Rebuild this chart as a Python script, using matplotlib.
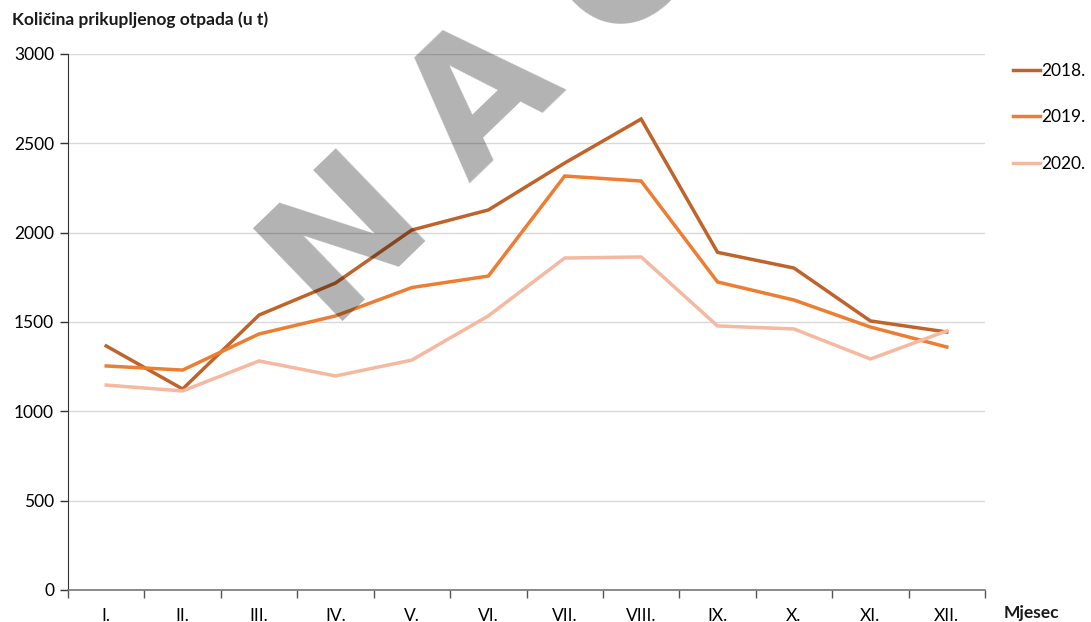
import math
import matplotlib
matplotlib.use("Agg")
import matplotlib.pyplot as plt

months = ["I.", "II.", "III.", "IV.", "V.", "VI.", "VII.", "VIII.", "IX.", "X.", "XI.", "XII."]
s2018 = [1366, 1125, 1539, 1718, 2015, 2127, 2390, 2636, 1890, 1802, 1506, 1444]
s2019 = [1254, 1231, 1433, 1534, 1693, 1757, 2317, 2289, 1724, 1623, 1472, 1360]
s2020 = [1147, 1114, 1282, 1198, 1287, 1534, 1858, 1864, 1478, 1461, 1293, 1450]
series = [("2018.", s2018, "#c0632b"), ("2019.", s2019, "#ed7d31"), ("2020.", s2020, "#f5b8a0")]
yticks = [0, 500, 1000, 1500, 2000, 2500, 3000]
watermark = "NACRT"

plt.rcParams['font.family'] = ['Lato', 'DejaVu Sans']
fig = plt.figure(figsize=(10.91, 6.22), dpi=100)
W, H = 1091, 622
ax = fig.add_axes([68 / W, 1 - 590 / H, (985 - 68) / W, (590 - 54) / H])

x = list(range(len(months)))
for name, vals, col in series:
    ax.plot(x, vals, color=col, lw=2.5, label=name, solid_joinstyle='miter')

ax.set_xlim(-0.5, len(months) - 0.5)
ax.set_ylim(0, 3000)
ax.set_yticks(yticks)
ax.set_yticklabels([str(v) for v in yticks], fontsize=12.5)
ax.set_xticks(x)
ax.set_xticklabels(months, fontsize=12.5)
ax.tick_params(axis='x', length=0, pad=13)
ax.set_xticks([i - 0.5 for i in range(len(months) + 1)], minor=True)
ax.tick_params(axis='x', which='minor', length=6, color='#555555', width=1)
ax.tick_params(axis='y', length=6, color='#333333', width=1, pad=4)
ax.grid(axis='y', color='#d9d9d9', lw=1)
ax.set_axisbelow(True)
for s in ['top', 'right']:
    ax.spines[s].set_visible(False)
ax.spines['left'].set_color('#333333')
ax.spines['bottom'].set_color('#777777')
ax.spines['bottom'].set_linewidth(1.2)

fig.text(12 / W, 1 - 20 / H, "Količina prikupljenog otpada (u t)", fontsize=12.5, fontweight='bold',
         ha='left', va='center', color='#1a1a1a')
fig.text(1004 / W, 1 - 613 / H, "Mjesec", fontsize=12.5, fontweight='bold', ha='left', va='center', color='#1a1a1a')

leg = ax.legend(loc='upper left', bbox_to_anchor=(1013 / W, 1 - 63 / H), bbox_transform=fig.transFigure,
                frameon=False, fontsize=12.5, handlelength=1.55, handletextpad=0.1, labelspacing=1.75,
                borderaxespad=0, borderpad=0)

# watermark: letters spaced along a 44-degree diagonal
ang = 44
step = 192
x0, y0 = 380, 270
for i, ch in enumerate(watermark):
    px = x0 + i * step * math.cos(math.radians(ang))
    py = y0 - i * step * math.sin(math.radians(ang))
    fig.text(px / W, 1 - py / H, ch, fontsize=127, fontweight='bold', color='black', alpha=0.3,
             rotation=ang, rotation_mode='anchor', ha='center', va='baseline', family=['DejaVu Sans'])

fig.savefig("out.png", dpi=100)
